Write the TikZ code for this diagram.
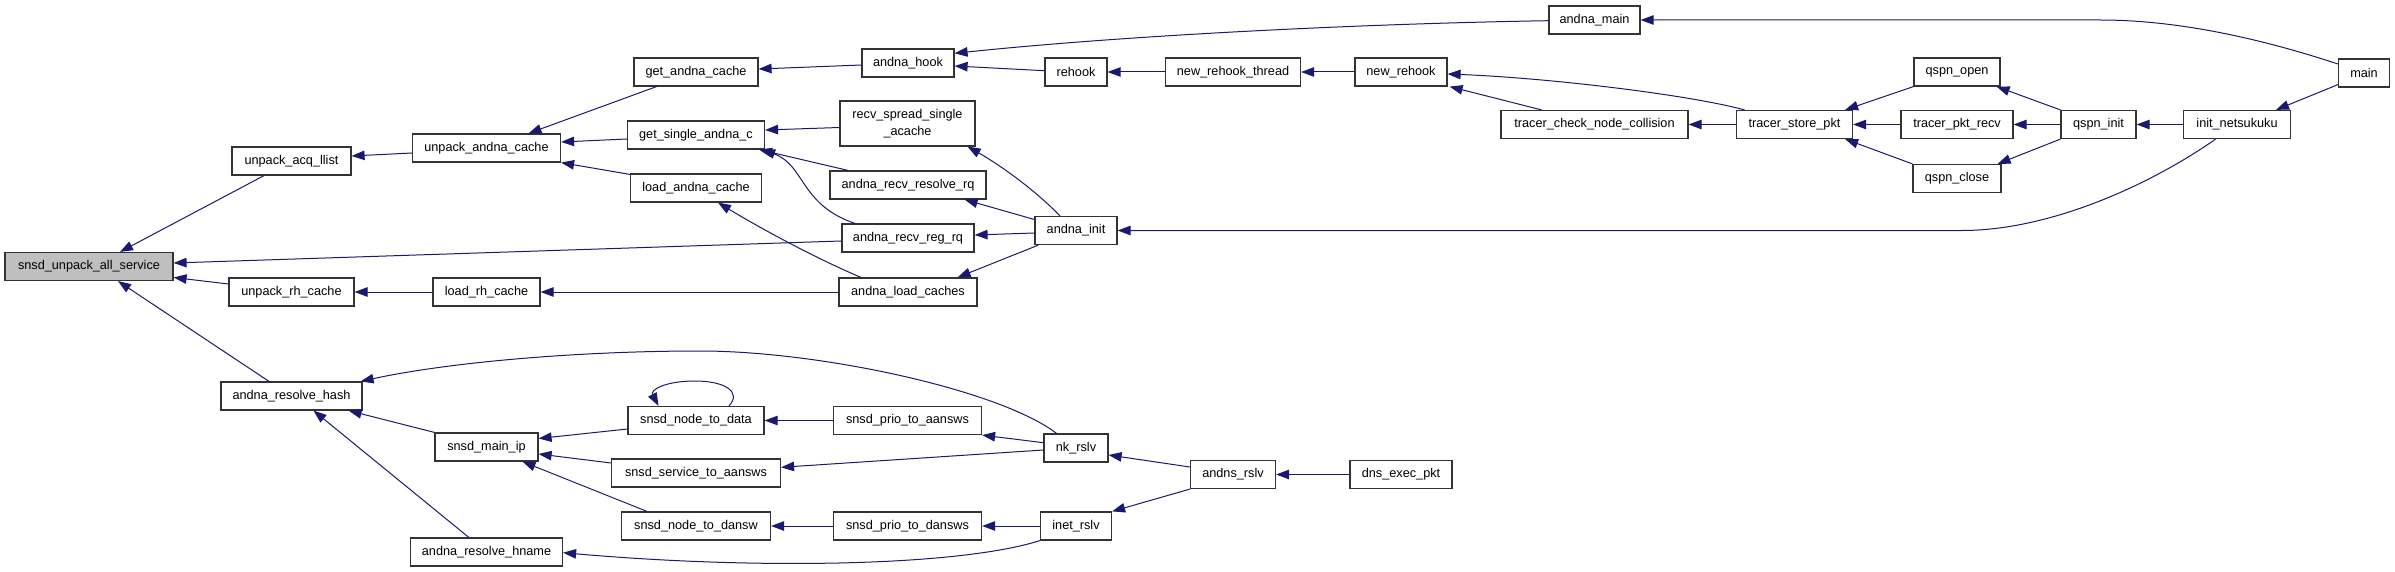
\documentclass[tikz,border=0pt]{standalone}
\usepackage{fontspec}
\setmainfont{Liberation Sans}
\usetikzlibrary{arrows.meta,calc}
\definecolor{mblue}{RGB}{25,25,112}
\begin{document}
\begin{tikzpicture}[x=1pt,y=-1pt,
  box/.style={draw=black!80, line width=1.2pt, fill=white, minimum height=28pt, inner sep=0pt,
    font=\fontsize{12.7}{16.5}\selectfont},
  cedge/.style={draw=mblue, line width=1pt, -{Triangle[length=13pt,width=9.5pt]}}]
\useasboundingbox (0,0) rectangle (2395,572);
% nodes
\node[box, fill=black!25, minimum width=168pt] (sua) at (89,266.5) {snsd\_unpack\_all\_service};
\node[box, minimum width=119pt] (acq) at (291.5,161) {unpack\_acq\_llist};
\node[box, minimum width=148pt] (uac) at (486.5,148) {unpack\_andna\_cache};
\node[box, minimum width=125pt] (urh) at (291.5,292) {unpack\_rh\_cache};
\node[box, minimum width=107pt] (lrh) at (486.5,292) {load\_rh\_cache};
\node[box, minimum width=141pt] (arh) at (291.5,396) {andna\_resolve\_hash};
\node[box, minimum width=103pt] (smi) at (486.5,447) {snsd\_main\_ip};
\node[box, minimum width=152pt] (arhn) at (486.5,552) {andna\_resolve\_hname};
\node[box, minimum width=124pt] (gac) at (696,72) {get\_andna\_cache};
\node[box, minimum width=137pt] (gsac) at (696,135) {get\_single\_andna\_c};
\node[box, minimum width=131pt] (lac) at (696,188) {load\_andna\_cache};
\node[box, minimum width=136pt] (sntd) at (696,420.5) {snsd\_node\_to\_data};
\node[box, minimum width=169pt] (ssta) at (696,473) {snsd\_service\_to\_aansws};
\node[box, minimum width=149pt] (sntdn) at (696,526) {snsd\_node\_to\_dansw};
\node[box, minimum width=92pt] (ahook) at (908,63) {andna\_hook};
\node[box, minimum width=135pt, minimum height=45pt, align=center] (rssa) at (907.5,123.5) {recv\_spread\_single\\\_acache};
\node[box, minimum width=156pt] (arrq) at (908,185) {andna\_recv\_resolve\_rq};
\node[box, minimum width=132pt] (aregq) at (908,238) {andna\_recv\_reg\_rq};
\node[box, minimum width=138pt] (alc) at (908,292) {andna\_load\_caches};
\node[box, minimum width=148pt] (spta) at (907.5,420.5) {snsd\_prio\_to\_aansws};
\node[box, minimum width=148pt] (sptd) at (907.5,526) {snsd\_prio\_to\_dansws};
\node[box, minimum width=62pt] (rehook) at (1076,72) {rehook};
\node[box, minimum width=82pt] (ainit) at (1076,230.5) {andna\_init};
\node[box, minimum width=64pt] (nk) at (1076,448) {nk\_rslv};
\node[box, minimum width=71pt] (inet) at (1076,526) {inet\_rslv};
\node[box, minimum width=135pt] (nrt) at (1233,72) {new\_rehook\_thread};
\node[box, minimum width=85pt] (andns) at (1233,474.5) {andns\_rslv};
\node[box, minimum width=92pt] (nrh) at (1401,72) {new\_rehook};
\node[box, minimum width=102pt] (dep) at (1401,474.5) {dns\_exec\_pkt};
\node[box, minimum width=91pt] (amain) at (1594.5,20) {andna\_main};
\node[box, minimum width=187pt] (tcnc) at (1594.5,124.5) {tracer\_check\_node\_collision};
\node[box, minimum width=116pt] (tsp) at (1794.5,124.5) {tracer\_store\_pkt};
\node[box, minimum width=86pt] (qopen) at (1957,72) {qspn\_open};
\node[box, minimum width=112pt] (tpr) at (1957,124.5) {tracer\_pkt\_recv};
\node[box, minimum width=88pt] (qclose) at (1957,178.5) {qspn\_close};
\node[box, minimum width=75pt] (qinit) at (2098.5,124.5) {qspn\_init};
\node[box, minimum width=107pt] (initn) at (2237,124.5) {init\_netsukuku};
\node[box, minimum width=51pt] (main) at (2364,73) {main};
% edges (caller -> callee)
\draw[cedge] ($(acq.south)+(-27.5,0)$) -- ($(sua.north)+(31,0)$);
\draw[cedge] ($(aregq.west)+(0,3)$) -- ($(sua.east)+(0,-3.5)$);
\draw[cedge] ($(urh.west)+(0,-8)$) -- ($(sua.east)+(0,11)$);
\draw[cedge] ($(arh.north)+(-22.5,0)$) -- ($(sua.south)+(29,0)$);
\draw[cedge] ($(uac.west)+(0,5)$) -- ($(acq.east)+(0,-5)$);
\draw[cedge] ($(gac.south)+(-39.5,0)$) -- ($(uac.north)+(42,0)$);
\draw[cedge] ($(gsac.west)+(0,4)$) -- ($(uac.east)+(0,-6)$);
\draw[cedge] ($(lac.north west)+(0,1)$) -- (uac.south east);
\draw[cedge] ($(ahook.west)+(0,2)$) -- ($(gac.east)+(0,-3)$);
\draw[cedge] ($(amain.west)+(0,0.7)$) .. controls (1350,24) and (1120,36) .. ($(ahook.east)+(0,-9.7)$);
\draw[cedge] ($(rehook.west)+(0,-1.3)$) -- ($(ahook.east)+(0,3)$);
\draw[cedge] (nrt.west) -- (rehook.east);
\draw[cedge] (nrh.west) -- (nrt.east);
\draw[cedge] ($(tsp.north)+(-50,0)$) .. controls (1690,95) and (1550,78) .. ($(nrh.east)+(0,2)$);
\draw[cedge] ($(tcnc.north)+(-53,0)$) -- ($(nrh.south east)+(2,0)$);
\draw[cedge] (tsp.west) -- (tcnc.east);
\draw[cedge] (qopen.south west) -- ($(tsp.north east)+(-8,0)$);
\draw[cedge] (tpr.west) -- (tsp.east);
\draw[cedge] (qclose.north west) -- ($(tsp.south east)+(-8,0)$);
\draw[cedge] (qinit.north west) -- ($(qopen.south east)+(-4,0)$);
\draw[cedge] (qinit.west) -- (tpr.east);
\draw[cedge] (qinit.south west) -- ($(qclose.north east)+(-4,0)$);
\draw[cedge] (initn.west) -- (qinit.east);
\draw[cedge] ($(main.south west)+(0,-3)$) -- ($(initn.north)+(39,0)$);
\draw[cedge] ($(main.west)+(0,-9)$) .. controls (2250,35) and (2170,20) .. (2100,20) -- (amain.east);
\draw[cedge] ($(initn.south)+(-21.4,0)$) .. controls (2150,185) and (2050,230.5) .. (1962,230.5) -- (ainit.east);
\draw[cedge] ($(rssa.west)+(0,4)$) -- ($(gsac.east)+(0,-5)$);
\draw[cedge] ($(arrq.north)+(-60,0)$) -- ($(gsac.south east)+(-6,0)$);
\draw[cedge] ($(aregq.north)+(-53,0)$) .. controls (800,205) and (805,165) .. ($(gsac.south east)+(-3,0)$);
\draw[cedge] ($(alc.north)+(-47,0)$) .. controls (815,258) and (760,228) .. ($(lac.south)+(22,0)$);
\draw[cedge] ($(ainit.north)+(-16,0)$) .. controls (1035,190) and (1000,165) .. ($(rssa.south east)+(-8,0)$);
\draw[cedge] ($(ainit.west)+(0,-11)$) -- ($(arrq.south east)+(-22,0)$);
\draw[cedge] ($(ainit.west)+(0,2.5)$) -- ($(aregq.east)+(0,-3)$);
\draw[cedge] ($(ainit.south west)+(4,0)$) -- ($(alc.north east)+(-20,0)$);
\draw[cedge] (alc.west) -- (lrh.east);
\draw[cedge] (lrh.west) -- (urh.east);
\draw[cedge] ($(nk.north)+(-19.5,0)$) .. controls (1000,390) and (820,351) .. (700,351) .. controls (580,351) and (450,362) .. ($(arh.north east)+(-2,0)$);
\draw[cedge] (smi.north west) -- ($(arh.south east)+(-14,0)$);
\draw[cedge] ($(arhn.north)+(-17.7,0)$) -- ($(arh.south)+(22,0)$);
\draw[cedge] ($(sntd.west)+(0,8.5)$) -- ($(smi.east)+(0,-8.5)$);
\draw[cedge] ($(ssta.west)+(0,-10)$) -- ($(smi.east)+(0,7)$);
\draw[cedge] ($(sntdn.north)+(-49,0)$) -- ($(smi.south)+(36,0)$);
\draw[cedge] ($(sntd.north)+(33,0)$) .. controls (742,392) and (725,381) .. (695,381) .. controls (665,381) and (650,390) .. ($(sntd.north)+(-37.5,0)$);
\draw[cedge] (spta.west) -- (sntd.east);
\draw[cedge] ($(nk.west)+(0,-5.3)$) -- (spta.south east);
\draw[cedge] ($(nk.west)+(0,2)$) -- ($(ssta.east)+(0,-5.7)$);
\draw[cedge] (sptd.west) -- (sntdn.east);
\draw[cedge] (inet.west) -- (sptd.east);
\draw[cedge] (inet.south west) .. controls (960,566) and (760,570) .. ($(arhn.east)+(0,0.7)$);
\draw[cedge] ($(andns.west)+(0,-7.5)$) -- ($(nk.east)+(0,7)$);
\draw[cedge] (andns.south west) -- (inet.north east);
\draw[cedge] (dep.west) -- (andns.east);
\end{tikzpicture}
\end{document}
